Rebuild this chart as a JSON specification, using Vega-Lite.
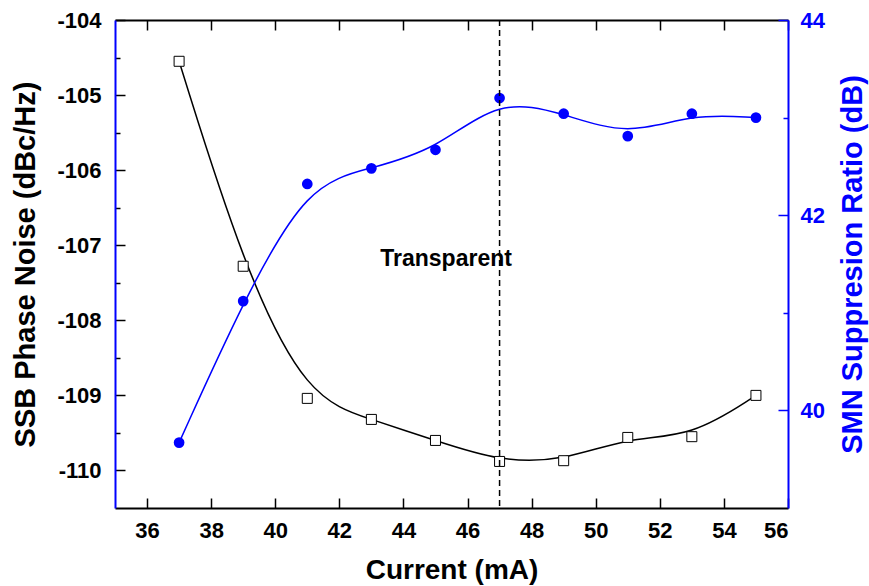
{
  "$schema": "https://vega.github.io/schema/vega-lite/v6.json",
  "width": 673,
  "height": 488,
  "autosize": {"type": "none"},
  "padding": {"left": 115, "top": 20, "right": 81, "bottom": 78},
  "background": "white",
  "config": {
    "view": {"stroke": null},
    "font": "Liberation Sans",
    "axis": {
      "grid": false,
      "labelFont": "Liberation Sans",
      "titleFont": "Liberation Sans",
      "labelFontWeight": "bold",
      "titleFontWeight": "bold",
      "labelFontSize": 22,
      "titleFontSize": 28,
      "domainWidth": 2,
      "tickWidth": 1.5
    }
  },
  "data": {
    "values": [
      {"current": 37, "noise": -104.55, "smsr": 39.67},
      {"current": 39, "noise": -107.28, "smsr": 41.12},
      {"current": 41, "noise": -109.04, "smsr": 42.32},
      {"current": 43, "noise": -109.32, "smsr": 42.48},
      {"current": 45, "noise": -109.6, "smsr": 42.67},
      {"current": 47, "noise": -109.88, "smsr": 43.2},
      {"current": 49, "noise": -109.87, "smsr": 43.04},
      {"current": 51, "noise": -109.56, "smsr": 42.81},
      {"current": 53, "noise": -109.55, "smsr": 43.04},
      {"current": 55, "noise": -109.0, "smsr": 43.0}
    ]
  },
  "layer": [
    {
      "layer": [
        {
          "mark": {"type": "line", "interpolate": "basis", "color": "black", "strokeWidth": 1.5},
          "encoding": {
            "x": {
              "field": "current", "type": "quantitative",
              "scale": {"domain": [35, 56], "nice": false, "zero": false},
              "axis": {
                "orient": "bottom",
                "values": [36, 37, 38, 39, 40, 41, 42, 43, 44, 45, 46, 47, 48, 49, 50, 51, 52, 53, 54, 55, 56],
                "labelExpr": "datum.value % 2 == 0 ? format(datum.value, 'd') : ''",
                "tickSize": {"condition": {"test": "datum.value % 2 != 0", "value": -5}, "value": -10},
                "domainColor": "black",
                "tickColor": "black",
                "labelColor": "black",
                "labelFont": "Liberation Sans",
                "labelFontSize": 22,
                "labelFontWeight": "bold",
                "labelPadding": 22,
                "title": "Current (mA)",
                "titleColor": "black",
                "titleFont": "Liberation Sans",
                "titleFontSize": 28,
                "titleFontWeight": "bold",
                "titleX": 336.5,
                "titleY": 70,
                "titleAlign": "center",
                "titleBaseline": "alphabetic"
              }
            },
            "y": {
              "field": "noise", "type": "quantitative",
              "scale": {"domain": [-110.5, -104], "nice": false, "zero": false},
              "axis": {
                "orient": "left",
                "values": [-110, -109.5, -109, -108.5, -108, -107.5, -107, -106.5, -106, -105.5, -105, -104.5, -104],
                "labelExpr": "datum.value % 1 == 0 ? '-' + format(abs(datum.value), 'd') : ''",
                "tickSize": {"condition": {"test": "datum.value % 1 != 0", "value": -5}, "value": -10},
                "domainColor": "#0000ff",
                "tickColor": "black",
                "labelColor": "black",
                "labelFont": "Liberation Sans",
                "labelFontSize": 22,
                "labelFontWeight": "bold",
                "labelPadding": 24,
                "title": "SSB Phase Noise (dBc/Hz)",
                "titleColor": "black",
                "titleFont": "Liberation Sans",
                "titleFontSize": 29,
                "titleFontWeight": "bold",
                "titleAngle": 270,
                "titleX": -90,
                "titleY": 244,
                "titleAlign": "center",
                "titleBaseline": "middle"
              }
            }
          }
        },
        {
          "mark": {"type": "point", "shape": "square", "filled": true, "fill": "white", "stroke": "black", "strokeWidth": 1, "size": 100, "opacity": 1},
          "encoding": {
            "x": {"field": "current", "type": "quantitative", "scale": {"domain": [35, 56], "nice": false, "zero": false}},
            "y": {"field": "noise", "type": "quantitative", "scale": {"domain": [-110.5, -104], "nice": false, "zero": false}}
          }
        },
        {
          "data": {"values": [{"label": "Transparent"}]},
          "mark": {"type": "text", "font": "Liberation Sans", "fontWeight": "bold", "fontSize": 23, "align": "center", "baseline": "alphabetic", "color": "black"},
          "encoding": {
            "text": {"field": "label"},
            "x": {"datum": 45.33, "type": "quantitative", "scale": {"domain": [35, 56], "nice": false, "zero": false}},
            "y": {"datum": -107.28, "type": "quantitative", "scale": {"domain": [-110.5, -104], "nice": false, "zero": false}}
          }
        }
      ]
    },
    {
      "layer": [
        {
          "mark": {"type": "line", "interpolate": "basis", "color": "#0000ff", "strokeWidth": 1.5},
          "encoding": {
            "x": {
              "field": "current", "type": "quantitative",
              "scale": {"domain": [35, 56], "nice": false, "zero": false},
              "axis": {
                "orient": "top",
                "values": [36, 37, 38, 39, 40, 41, 42, 43, 44, 45, 46, 47, 48, 49, 50, 51, 52, 53, 54, 55, 56],
                "labels": false,
                "tickSize": {"condition": {"test": "datum.value % 2 != 0", "value": -5}, "value": -10},
                "domainColor": "black",
                "tickColor": "black",
                "title": null
              }
            },
            "y": {
              "field": "smsr", "type": "quantitative",
              "scale": {"domain": [39, 44], "nice": false, "zero": false},
              "axis": {
                "orient": "right",
                "values": [40, 41, 42, 43, 44],
                "labelExpr": "datum.value % 2 == 0 ? format(datum.value, 'd') : ''",
                "tickSize": {"condition": {"test": "datum.value % 2 != 0", "value": -5}, "value": -10},
                "domainColor": "#0000ff",
                "tickColor": "#0000ff",
                "labelColor": "#0000ff",
                "labelFont": "Liberation Sans",
                "labelFontSize": 22,
                "labelFontWeight": "bold",
                "labelPadding": 22,
                "title": "SMN Suppresion Ratio (dB)",
                "titleColor": "#0000ff",
                "titleFont": "Liberation Sans",
                "titleFontSize": 29,
                "titleFontWeight": "bold",
                "titleAngle": 270,
                "titleX": 64,
                "titleY": 244,
                "titleAlign": "center",
                "titleBaseline": "middle"
              }
            }
          }
        },
        {
          "mark": {"type": "circle", "color": "#0000ff", "size": 115, "opacity": 1},
          "encoding": {
            "x": {"field": "current", "type": "quantitative", "scale": {"domain": [35, 56], "nice": false, "zero": false}},
            "y": {"field": "smsr", "type": "quantitative", "scale": {"domain": [39, 44], "nice": false, "zero": false}}
          }
        },
        {
          "data": {"values": [{"current": 47}]},
          "mark": {"type": "rule", "color": "black", "strokeWidth": 1.5, "strokeDash": [6, 4]},
          "encoding": {
            "x": {"field": "current", "type": "quantitative", "scale": {"domain": [35, 56], "nice": false, "zero": false}}
          }
        }
      ]
    }
  ],
  "resolve": {
    "scale": {"x": "independent", "y": "independent"},
    "axis": {"x": "independent", "y": "independent"}
  }
}
